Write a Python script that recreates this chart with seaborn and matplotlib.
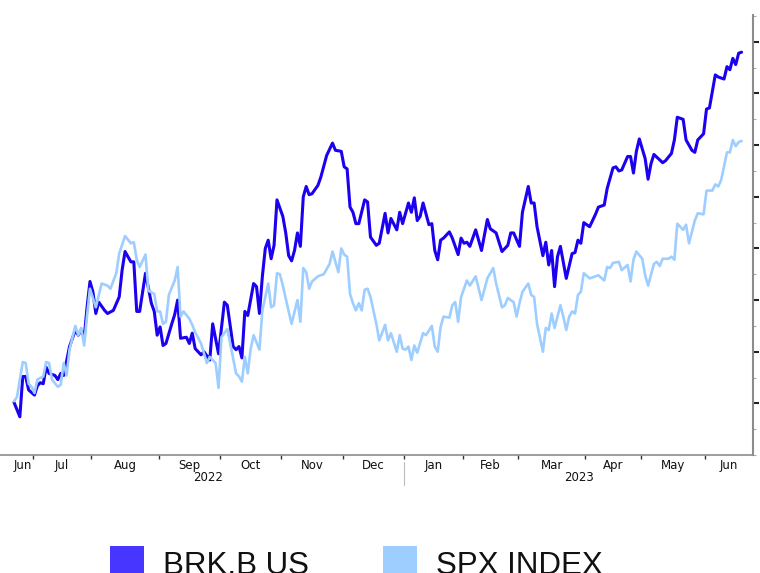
import matplotlib
matplotlib.use("Agg")
import matplotlib.pyplot as plt
import matplotlib.transforms as mtransforms
from matplotlib.patches import Rectangle
from matplotlib.ticker import MultipleLocator
import pandas as pd
import seaborn as sns

# % change since 2022-06-22 (turning points only)
brk_dates = [
    "2022-06-22", "2022-06-24", "2022-06-27", "2022-06-28", "2022-06-29", "2022-07-01", "2022-07-05", "2022-07-06",
    "2022-07-07", "2022-07-08", "2022-07-11", "2022-07-13", "2022-07-14", "2022-07-15", "2022-07-18", "2022-07-20",
    "2022-07-22", "2022-07-25", "2022-07-26", "2022-07-27", "2022-07-28", "2022-07-29", "2022-08-01", "2022-08-02",
    "2022-08-03", "2022-08-05", "2022-08-08", "2022-08-10", "2022-08-12", "2022-08-15", "2022-08-16", "2022-08-18",
    "2022-08-19", "2022-08-22", "2022-08-23", "2022-08-25", "2022-08-29", "2022-08-30", "2022-08-31", "2022-09-01",
    "2022-09-02", "2022-09-06", "2022-09-08", "2022-09-09", "2022-09-12", "2022-09-13", "2022-09-15", "2022-09-16",
    "2022-09-19", "2022-09-20", "2022-09-22", "2022-09-23", "2022-09-27", "2022-09-28", "2022-09-30", "2022-10-04",
    "2022-10-05", "2022-10-07", "2022-10-10", "2022-10-11", "2022-10-12", "2022-10-13", "2022-10-14", "2022-10-18",
    "2022-10-19", "2022-10-20", "2022-10-21", "2022-10-24", "2022-10-25", "2022-10-26", "2022-10-27", "2022-10-28",
    "2022-11-01", "2022-11-02", "2022-11-03", "2022-11-04", "2022-11-07", "2022-11-08", "2022-11-09", "2022-11-10",
    "2022-11-11", "2022-11-14", "2022-11-15", "2022-11-17", "2022-11-18", "2022-11-22", "2022-11-25", "2022-11-28",
    "2022-11-30", "2022-12-01", "2022-12-02", "2022-12-05", "2022-12-06", "2022-12-07", "2022-12-08", "2022-12-12",
    "2022-12-13", "2022-12-14", "2022-12-16", "2022-12-19", "2022-12-21", "2022-12-22", "2022-12-23", "2022-12-28",
    "2022-12-29", "2022-12-30", "2023-01-04", "2023-01-05", "2023-01-06", "2023-01-09", "2023-01-10", "2023-01-11",
    "2023-01-13", "2023-01-17", "2023-01-18", "2023-01-19", "2023-01-20", "2023-01-23", "2023-01-25", "2023-01-26",
    "2023-01-30", "2023-01-31", "2023-02-01", "2023-02-02", "2023-02-03", "2023-02-07", "2023-02-09", "2023-02-13",
    "2023-02-14", "2023-02-16", "2023-02-21", "2023-02-23", "2023-02-24", "2023-02-27", "2023-03-01", "2023-03-02",
    "2023-03-06", "2023-03-07", "2023-03-08", "2023-03-09", "2023-03-13", "2023-03-14", "2023-03-15", "2023-03-16",
    "2023-03-17", "2023-03-20", "2023-03-21", "2023-03-23", "2023-03-27", "2023-03-28", "2023-03-29", "2023-03-30",
    "2023-03-31", "2023-04-04", "2023-04-06", "2023-04-10", "2023-04-12", "2023-04-13", "2023-04-17", "2023-04-18",
    "2023-04-19", "2023-04-20", "2023-04-24", "2023-04-25", "2023-04-26", "2023-04-27", "2023-04-28", "2023-05-02",
    "2023-05-03", "2023-05-04", "2023-05-05", "2023-05-10", "2023-05-11", "2023-05-15", "2023-05-16", "2023-05-17",
    "2023-05-19", "2023-05-22", "2023-05-24", "2023-05-25", "2023-05-26", "2023-05-31", "2023-06-01", "2023-06-02",
    "2023-06-06", "2023-06-07", "2023-06-09", "2023-06-12", "2023-06-13", "2023-06-14", "2023-06-15", "2023-06-16",
    "2023-06-20",
]
brk_values = [
    0.1, -1.3, 2.6, 2.6, 1.3, 0.8, 1.7, 2.0,
    1.9, 3.5, 2.9, 2.7, 2.3, 2.9, 2.7, 5.5,
    7.1, 6.6, 7.1, 6.3, 9.3, 11.8, 10.8, 8.7,
    9.8, 9.0, 8.7, 9.0, 10.3, 12.9, 14.7, 13.7,
    13.7, 8.9, 8.9, 12.6, 9.7, 8.9, 6.6, 7.4,
    5.6, 5.8, 7.7, 8.6, 10.0, 6.3, 6.4, 5.8,
    6.8, 5.3, 4.7, 5.0, 4.2, 7.7, 4.8, 9.8,
    9.5, 5.5, 5.2, 5.5, 4.4, 8.9, 8.5, 11.6,
    11.3, 8.7, 12.3, 15.0, 15.8, 14.0, 15.3, 19.7,
    18.1, 16.5, 14.3, 13.8, 14.8, 16.5, 15.2, 20.0,
    21.0, 20.2, 20.3, 21.1, 21.9, 24.0, 25.2, 24.5,
    24.4, 22.9, 22.7, 19.0, 18.5, 17.4, 17.4, 19.7,
    19.5, 16.1, 15.3, 15.5, 18.4, 16.5, 17.9, 16.8,
    18.5, 17.4, 19.4, 18.5, 19.9, 17.7, 18.1, 19.4,
    17.3, 17.4, 14.8, 13.9, 15.8, 16.0, 16.6, 16.0,
    14.4, 16.0, 15.5, 15.6, 15.2, 16.8, 14.8, 17.8,
    16.9, 16.5, 14.7, 15.3, 16.5, 16.5, 15.2, 18.5,
    21.0, 19.4, 19.4, 17.1, 14.3, 15.6, 13.4, 14.8,
    11.3, 14.2, 15.2, 12.1, 14.5, 14.6, 15.8, 15.5,
    17.5, 17.1, 18.3, 19.0, 19.2, 20.8, 22.8, 22.9,
    22.5, 22.6, 23.9, 23.9, 22.3, 24.4, 25.6, 23.7,
    21.7, 23.2, 24.1, 23.3, 23.5, 24.2, 25.5, 27.7,
    27.5, 25.5, 24.5, 24.3, 25.5, 26.1, 28.5, 28.6,
    31.8, 31.6, 31.4, 32.6, 32.3, 33.4, 32.8, 33.9,
    34.0,
]

spx_dates = [
    "2022-06-22", "2022-06-23", "2022-06-27", "2022-06-28", "2022-06-29", "2022-06-30", "2022-07-01", "2022-07-05",
    "2022-07-07", "2022-07-08", "2022-07-11", "2022-07-12", "2022-07-14", "2022-07-15", "2022-07-18", "2022-07-19",
    "2022-07-20", "2022-07-22", "2022-07-25", "2022-07-26", "2022-07-27", "2022-07-28", "2022-07-29", "2022-08-01",
    "2022-08-02", "2022-08-04", "2022-08-08", "2022-08-09", "2022-08-11", "2022-08-12", "2022-08-16", "2022-08-18",
    "2022-08-19", "2022-08-22", "2022-08-23", "2022-08-25", "2022-08-26", "2022-08-30", "2022-08-31", "2022-09-01",
    "2022-09-02", "2022-09-06", "2022-09-07", "2022-09-09", "2022-09-12", "2022-09-13", "2022-09-14", "2022-09-16",
    "2022-09-19", "2022-09-20", "2022-09-22", "2022-09-26", "2022-09-27", "2022-09-29", "2022-09-30", "2022-10-03",
    "2022-10-05", "2022-10-06", "2022-10-10", "2022-10-11", "2022-10-12", "2022-10-13", "2022-10-14", "2022-10-17",
    "2022-10-18", "2022-10-20", "2022-10-21", "2022-10-25", "2022-10-26", "2022-10-27", "2022-10-28", "2022-10-31",
    "2022-11-01", "2022-11-03", "2022-11-04", "2022-11-08", "2022-11-09", "2022-11-10", "2022-11-11", "2022-11-14",
    "2022-11-15", "2022-11-17", "2022-11-21", "2022-11-23", "2022-11-25", "2022-11-29", "2022-11-30", "2022-12-01",
    "2022-12-02", "2022-12-05", "2022-12-06", "2022-12-07", "2022-12-08", "2022-12-09", "2022-12-12", "2022-12-13",
    "2022-12-14", "2022-12-16", "2022-12-19", "2022-12-21", "2022-12-22", "2022-12-23", "2022-12-28", "2022-12-29",
    "2022-12-30", "2023-01-03", "2023-01-04", "2023-01-05", "2023-01-06", "2023-01-09", "2023-01-11", "2023-01-12",
    "2023-01-17", "2023-01-18", "2023-01-19", "2023-01-20", "2023-01-23", "2023-01-25", "2023-01-26", "2023-01-27",
    "2023-01-30", "2023-01-31", "2023-02-02", "2023-02-03", "2023-02-07", "2023-02-09", "2023-02-13", "2023-02-15",
    "2023-02-16", "2023-02-21", "2023-02-22", "2023-02-23", "2023-02-27", "2023-02-28", "2023-03-01", "2023-03-02",
    "2023-03-06", "2023-03-07", "2023-03-08", "2023-03-09", "2023-03-13", "2023-03-14", "2023-03-15", "2023-03-16",
    "2023-03-17", "2023-03-21", "2023-03-22", "2023-03-23", "2023-03-24", "2023-03-27", "2023-03-28", "2023-03-29",
    "2023-03-30", "2023-03-31", "2023-04-04", "2023-04-06", "2023-04-10", "2023-04-12", "2023-04-13", "2023-04-14",
    "2023-04-17", "2023-04-19", "2023-04-20", "2023-04-24", "2023-04-25", "2023-04-26", "2023-04-27", "2023-05-01",
    "2023-05-02", "2023-05-03", "2023-05-05", "2023-05-08", "2023-05-09", "2023-05-10", "2023-05-12", "2023-05-15",
    "2023-05-16", "2023-05-17", "2023-05-19", "2023-05-22", "2023-05-23", "2023-05-25", "2023-05-26", "2023-05-31",
    "2023-06-01", "2023-06-05", "2023-06-06", "2023-06-07", "2023-06-08", "2023-06-12", "2023-06-13", "2023-06-14",
    "2023-06-15", "2023-06-16", "2023-06-20",
]
spx_values = [
    0.2, 0.6, 4.0, 3.9, 1.9, 1.6, 1.0, 2.3,
    2.6, 4.0, 3.9, 2.3, 1.6, 1.8, 3.9, 2.7,
    5.2, 7.5, 6.6, 7.3, 5.6, 8.5, 11.1, 10.2,
    9.3, 11.6, 11.4, 11.1, 12.6, 14.5, 16.2, 15.5,
    15.6, 13.9, 13.2, 14.4, 10.9, 10.6, 8.9, 8.9,
    7.7, 7.9, 10.5, 11.9, 13.2, 8.4, 8.9, 8.2,
    7.6, 6.9, 5.8, 3.9, 4.5, 3.9, 1.5, 6.4,
    7.2, 5.8, 2.9, 2.6, 2.1, 4.5, 2.9, 5.3,
    6.6, 5.2, 9.0, 11.6, 9.3, 9.5, 12.6, 12.5,
    11.4, 8.9, 7.7, 10.0, 7.9, 13.1, 12.7, 11.1,
    11.8, 12.3, 12.5, 13.5, 14.7, 12.7, 15.0, 14.4,
    14.2, 10.6, 9.7, 9.0, 9.7, 9.0, 11.0, 11.1,
    10.3, 7.7, 6.1, 7.6, 6.1, 6.8, 5.0, 6.6,
    5.3, 5.2, 5.5, 4.2, 5.6, 4.9, 6.8, 6.6,
    7.5, 5.5, 5.0, 7.4, 8.4, 8.3, 9.5, 9.8,
    7.9, 10.3, 11.9, 11.4, 12.3, 10.0, 12.1, 13.1,
    11.6, 9.3, 9.5, 10.2, 9.8, 8.4, 9.7, 10.8,
    11.6, 10.5, 10.3, 7.7, 5.0, 7.3, 7.1, 8.7,
    7.3, 9.5, 8.4, 7.1, 8.4, 8.9, 8.7, 10.5,
    10.8, 12.6, 12.1, 12.3, 12.4, 11.9, 13.2, 13.1,
    13.6, 13.7, 12.9, 13.4, 11.8, 13.9, 14.7, 14.0,
    12.4, 11.4, 13.5, 13.7, 13.3, 14.0, 14.0, 14.2,
    13.9, 17.4, 16.8, 17.3, 15.5, 17.7, 18.4, 18.3,
    20.6, 20.6, 21.2, 21.0, 21.6, 24.3, 24.3, 25.5,
    24.9, 25.3, 25.4,
]

y_ticks = [0, 5, 10, 15, 20, 25, 30, 35]
series_names = ["BRK.B US", "SPX INDEX"]

# NYSE closures inside the window
holidays = ["2022-07-04", "2022-09-05", "2022-11-24", "2022-12-26", "2023-01-02",
            "2023-01-16", "2023-02-20", "2023-04-07", "2023-05-29", "2023-06-19"]

BRK_COLOR = "#1c00f0"
BRK_KEY = "#4736ff"
SPX_COLOR = "#9dceff"
AXIS_GREY = "#8c8c8c"

sessions = pd.bdate_range("2022-06-22", "2023-06-20", freq="C", holidays=holidays)

brk = pd.DataFrame({"date": pd.to_datetime(brk_dates), "value": brk_values})
spx = pd.DataFrame({"date": pd.to_datetime(spx_dates), "value": spx_values})
for df in (brk, spx):
    df["session"] = sessions.get_indexer(df["date"])
assert (brk["session"] >= 0).all() and (spx["session"] >= 0).all()

sns.set_style("white")
plt.rcParams["font.family"] = ["Liberation Sans Narrow", "DejaVu Sans"]

fig = plt.figure(figsize=(7.6, 5.73), dpi=100)
ax = fig.add_axes([0, 1 - 455 / 573, 753 / 760, 440 / 573])

sns.lineplot(data=brk, x="session", y="value", ax=ax, color=BRK_COLOR, linewidth=2.2, estimator=None)
sns.lineplot(data=spx, x="session", y="value", ax=ax, color=SPX_COLOR, linewidth=1.9, estimator=None)

x_left, x_right = -14 / 2.922, (753 - 14) / 2.922
ax.set_xlim(x_left, x_right)
ax.set_ylim(-5.0, 37.6)
ax.set_xlabel("")
ax.set_ylabel("")

# month boundaries as ticks, month names centred between them
pos = pd.Series(range(len(sessions)), index=sessions)
month_first = pos.groupby(sessions.to_period("M")).min()
bounds = [v - 0.5 for v in month_first.values[1:]]
edges = [-0.5] + bounds + [x_right]
centers = [(a + b) / 2 for a, b in zip(edges[:-1], edges[1:])]
month_labels = [p.strftime("%b") for p in month_first.index]

ax.set_xticks(bounds)
ax.set_xticklabels([])
ax.set_xticks(centers, minor=True)
ax.set_xticklabels(month_labels, minor=True)
ax.tick_params(axis="x", which="major", direction="out", length=3, width=1, color="#333333", bottom=True)
ax.tick_params(axis="x", which="minor", length=0, pad=3, labelsize=8.5, labelcolor="#111111")

# year row
trans = mtransforms.blended_transform_factory(ax.transData, ax.transAxes)
year_first = pos.groupby(sessions.year).min()
year_edges = [-0.5] + [v - 0.5 for v in year_first.values[1:]] + [x_right]
for yr, a, b in zip(year_first.index, year_edges[:-1], year_edges[1:]):
    ax.text((a + b) / 2, -0.052, str(yr), transform=trans, ha="center", va="center",
            fontsize=8.5, color="#111111")
for b in year_edges[1:-1]:
    ax.plot([b, b], [-0.016, -0.068], transform=trans, clip_on=False, color="#bbbbbb", lw=0.8)

# right-hand value axis
ax.yaxis.tick_right()
ax.set_yticks(y_ticks)
ax.set_yticklabels([str(t) for t in y_ticks])
ax.yaxis.set_minor_locator(MultipleLocator(2.5))
ax.tick_params(axis="y", which="major", direction="out", length=4, width=1.5, color="#222222",
               pad=1, labelsize=9, labelcolor="#c8803a", right=True, left=False)
ax.tick_params(axis="y", which="minor", direction="out", length=2, width=0.8, color="#aaaaaa",
               right=True, left=False)

for side in ("top", "left"):
    ax.spines[side].set_visible(False)
ax.spines["right"].set_color(AXIS_GREY)
ax.spines["right"].set_linewidth(1.5)
ax.spines["bottom"].set_color(AXIS_GREY)
ax.spines["bottom"].set_linewidth(1.2)

# legend along the bottom edge
W, H = 760, 573
for name, color, x0 in zip(series_names, [BRK_KEY, SPX_COLOR], [110, 383]):
    fig.add_artist(Rectangle((x0 / W, (H - 580) / H), 34 / W, 34 / H, transform=fig.transFigure,
                             facecolor=color, edgecolor="none", clip_on=False))
    fig.text((x0 + 53) / W, -0.5 / H, name, fontsize=22.5, va="baseline", ha="left",
             family=["Liberation Sans", "DejaVu Sans"], color="#111111")

fig.savefig("out.png", dpi=100)
